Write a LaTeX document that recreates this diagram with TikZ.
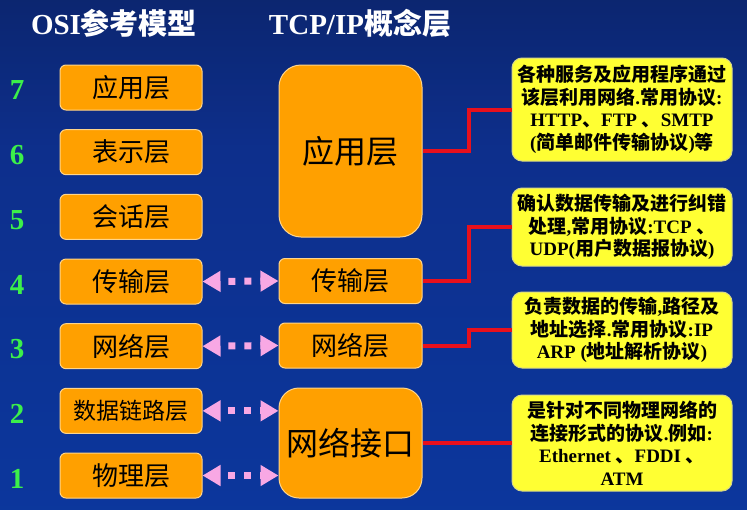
\documentclass[tikz,border=0pt]{standalone}
\usepackage{fontspec}
\setmainfont{Liberation Serif}
\newfontfamily\zh{Noto Sans CJK SC}
\usetikzlibrary{arrows.meta}
\definecolor{bgtop}{HTML}{0A1642}
\definecolor{bgmid}{HTML}{0D2F8C}
\definecolor{bgbot}{HTML}{0B3CA8}
\definecolor{layerorange}{HTML}{FFA000}
\definecolor{layeredge}{HTML}{FFD58A}
\definecolor{noteyellow}{HTML}{FFFF33}
\definecolor{noteedge}{HTML}{D6D68A}
\definecolor{wirered}{HTML}{E8101C}
\definecolor{linkpink}{HTML}{F8A8E4}
\definecolor{numgreen}{HTML}{3CF04A}
\pgfdeclareverticalshading{bgshade}{100bp}{color(0bp)=(bgbot); color(60bp)=(bgmid); color(100bp)=(bgtop)}
\tikzstyle{layer} = [rectangle, rounded corners=6pt, minimum width=142pt, minimum height=45pt, inner sep=0pt, draw=layeredge, line width=1pt, fill=layerorange, font=\zh\fontsize{26}{26}\selectfont]
\tikzstyle{note} = [rectangle, rounded corners=10pt, minimum width=220pt, inner sep=0pt, align=center, draw=noteedge, line width=1pt, fill=noteyellow, font=\bfseries\fontsize{19}{22.5}\selectfont]
\tikzstyle{wire} = [line width=4pt, draw=wirered]
\tikzstyle{link} = [linkpink, line width=7pt, dash pattern=on 7pt off 9pt, dash phase=7pt, {Triangle[length=18pt,width=20pt]}-{Triangle[length=18pt,width=20pt]}]
\tikzstyle{heading} = [text=white, font=\bfseries\fontsize{29}{29}\selectfont]

\begin{document}
\begin{tikzpicture}[x=1pt,y=-1pt]
\shade[shading=bgshade] (0,0) rectangle (747,509);
% titles
\node[heading] (osititle) at (114,23) {OSI{\zh 参考模型}};
\node[heading] (tcptitle) at (360,23) {TCP/IP{\zh 概念层}};
% OSI layers
\foreach \n/\name/\sz in {7/应用层/26, 6/表示层/26, 5/会话层/26, 4/传输层/26, 3/网络层/26, 2/数据链路层/23, 1/物理层/26}
{
  \node[layer,font=\zh\fontsize{\sz}{\sz}\selectfont] (osi\n) at (131,{87.5+(7-\n)*64.67}) {\name};
  \node[text=numgreen,font=\bfseries\fontsize{29}{29}\selectfont] (num\n) at (17,{90.5+(7-\n)*64.67}) {\n};
}
% TCP/IP layers
\node[layer,minimum width=143pt,minimum height=172pt,rounded corners=22pt,font=\zh\fontsize{32}{32}\selectfont] (app) at (350.5,151) {应用层};
\node[layer,minimum width=143pt] (tcp4) at (350.5,281) {传输层};
\node[layer,minimum width=143pt] (tcp3) at (350.5,345.5) {网络层};
\node[layer,minimum width=143pt,minimum height=110pt,rounded corners=20pt,font=\zh\fontsize{32}{32}\selectfont] (iface) at (350.5,443) {网络接口};
% notes
\node[note,minimum height=103pt] (note1) at (622,109.5) {{\zh 各种服务及应用程序通过}\\{\zh 该层利用网络}.{\zh 常用协议}:\\HTTP{\zh 、}FTP {\zh 、}SMTP\\({\zh 简单邮件传输协议}){\zh 等}};
\node[note,minimum height=78pt] (note2) at (622,227) {{\zh 确认数据传输及进行纠错}\\{\zh 处理},{\zh 常用协议}:TCP {\zh 、}\\UDP({\zh 用户数据报协议})};
\node[note,minimum height=76pt] (note3) at (622,330) {{\zh 负责数据的传输},{\zh 路径及}\\{\zh 地址选择}.{\zh 常用协议}:IP\\ARP ({\zh 地址解析协议})};
\node[note,minimum height=96pt] (note4) at (622,443) {{\zh 是针对不同物理网络的}\\{\zh 连接形式的协议}.{\zh 例如}:\\Ethernet {\zh 、}FDDI {\zh 、}\\ATM};
% connectors
\draw[wire] (app.east) -- ++(46,0) |- (note1.west);
\draw[wire] (tcp4.east) -- ++(46,0) |- (note2.west);
\draw[wire] (tcp3.east) -- ++(46,0) |- (note3.west);
\draw[wire] (iface.east) -- (note4.west);
\draw[link] (osi4.east) -- (tcp4.west);
\draw[link] (osi3.east) -- (tcp3.west);
\draw[link] (osi2.east) -- (osi2.east -| iface.west);
\draw[link] (osi1.east) -- (osi1.east -| iface.west);
\end{tikzpicture}
\end{document}
